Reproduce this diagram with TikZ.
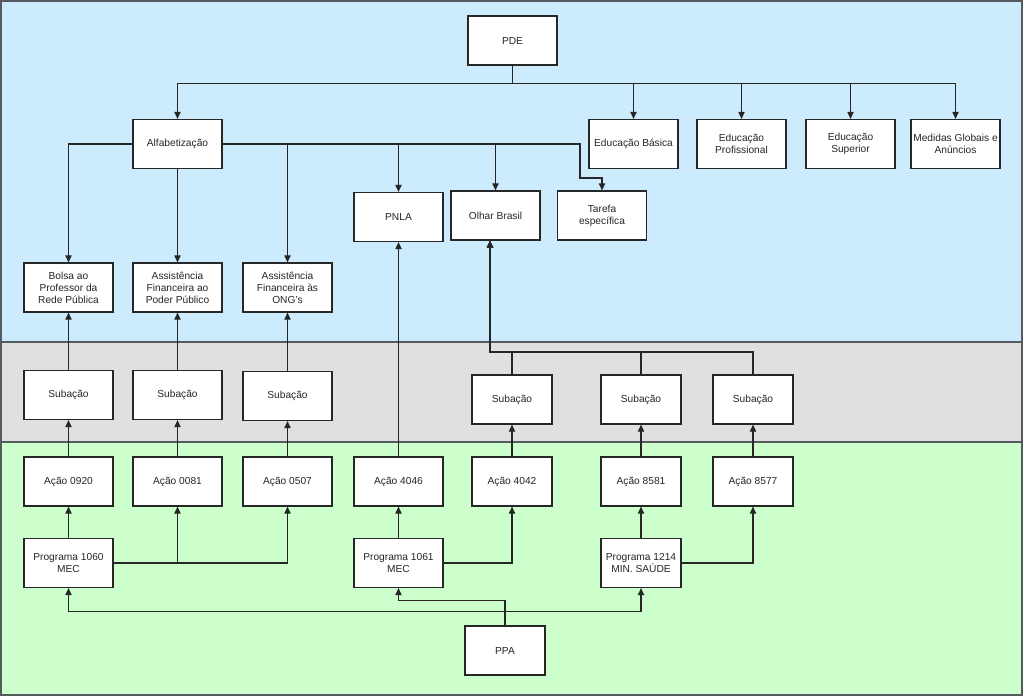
\documentclass[tikz,border=0pt]{standalone}
\usepackage{fontspec}
\setmainfont{Liberation Sans}
\usetikzlibrary{arrows.meta}
\definecolor{bandblue}{RGB}{204,236,254}
\definecolor{bandgray}{RGB}{224,224,224}
\definecolor{bandgreen}{RGB}{204,255,204}
\definecolor{bandline}{RGB}{85,90,95}
\begin{document}
\begin{tikzpicture}[x=.02cm,y=-.02cm,
  box/.style={draw=black!85,line width=.7pt,fill=white,minimum width=1.78cm,minimum height=.98cm,align=center,inner sep=1pt,text=black!85,font=\fontsize{5.8}{6.9}\selectfont},
  nbox/.style={box,minimum width=1.6cm},
  conn/.style={draw=black!85,line width=.6pt,-{Triangle[length=4pt,width=3.6pt]}}]
\useasboundingbox (0,0) rectangle (1024,696);
% bands
\fill[bandblue] (1,1) rectangle (1022,342); \fill[bandgray] (1,342) rectangle (1022,442); \fill[bandgreen] (1,442) rectangle (1022,695);
\draw[bandline,line width=.8pt] (1,1) rectangle (1022,695); \draw[bandline,line width=.8pt] (1,342)--(1022,342); \draw[bandline,line width=.8pt] (1,442)--(1022,442);
% PDE level
\node[box] (pde) at (512.5,40.5) {PDE};
\node[box] (alf) at (177.5,144) {Alfabetização};
\node[box] (basica) at (633.5,144) {Educação Básica};
\node[box] (prof) at (741.5,144) {Educação\\Profissional};
\node[box] (sup) at (850.5,144) {Educação\\Superior};
\node[box] (med) at (955.5,144) {Medidas Globais e\\Anúncios};
\node[box] (pnla) at (398.5,217) {PNLA};
\node[box] (olhar) at (495.5,215.5) {Olhar Brasil};
\node[box] (tarefa) at (602,215.5) {Tarefa\\específica};
\node[box] (bolsa) at (68.5,287.5) {Bolsa ao\\Professor da\\Rede Pública};
\node[box] (asspp) at (177.5,287.5) {Assistência\\Financeira ao\\Poder Público};
\node[box] (assong) at (287.5,287.5) {Assistência\\Financeira às\\ONG's};
% subacoes
\foreach \n/\x/\y in {sub1/68.5/395,sub2/177.5/395,sub3/287.5/396} \node[box] (\n) at (\x,\y) {Subação};
\foreach \n/\x in {sub4/512,sub5/641,sub6/753} \node[nbox] (\n) at (\x,399.5) {Subação};
% acoes and programas
\foreach \n/\x/\t in {a0920/68.5/0920,a0081/177.5/0081,a0507/287.5/0507,a4046/398.5/4046} \node[box] (\n) at (\x,481.5) {Ação \t};
\foreach \n/\x/\t in {a4042/512/4042,a8581/641/8581,a8577/753/8577} \node[nbox] (\n) at (\x,481.5) {Ação \t};
\node[box] (p1060) at (68.5,563) {Programa 1060\\MEC};
\node[box] (p1061) at (398.5,563) {Programa 1061\\MEC};
\node[nbox] (p1214) at (641,563) {Programa 1214\\MIN. SAÚDE};
\node[nbox] (ppa) at (505,650.5) {PPA};
% connectors
\draw[conn] (pde.south) -- ++(0,18) -| (alf.north);
\foreach \t in {basica,prof,sup,med} \draw[conn] (pde.south) -- ++(0,18) -| (\t.north);
\draw[conn] (alf.west) -| (bolsa.north); \draw[conn] (alf.south) -- (asspp.north);
\foreach \t in {assong,pnla,olhar} \draw[conn] (alf.east) -| (\t.north);
\coordinate (tk) at (580,178); \draw[conn] (alf.east) -| (tk) -| (tarefa.north);
\foreach \a/\s/\t in {a0920/sub1/bolsa,a0081/sub2/asspp,a0507/sub3/assong} {\draw[conn] (\a.north) -- (\s.south); \draw[conn] (\s.north) -- (\t.south);}
\draw[conn] (a4046.north) -- (pnla.south);
\coordinate (oj) at (490,352);
\foreach \s in {sub4,sub5,sub6} \draw[conn] (\s.north) |- (oj) -- (olhar.south -| oj);
\foreach \a/\s in {a4042/sub4,a8581/sub5,a8577/sub6} \draw[conn] (\a.north) -- (\s.south);
\draw[conn] (p1060.north) -- (a0920.south); \draw[conn] (p1060.east) -| (a0081.south); \draw[conn] (p1060.east) -| (a0507.south);
\draw[conn] (p1061.north) -- (a4046.south); \draw[conn] (p1061.east) -| (a4042.south);
\draw[conn] (p1214.north) -- (a8581.south); \draw[conn] (p1214.east) -| (a8577.south);
\draw[conn] (ppa.north) -- ++(0,-25) -| (p1061.south);
\foreach \t in {p1060,p1214} \draw[conn] (ppa.north) -- ++(0,-14) -| (\t.south);
\end{tikzpicture}
\end{document}
